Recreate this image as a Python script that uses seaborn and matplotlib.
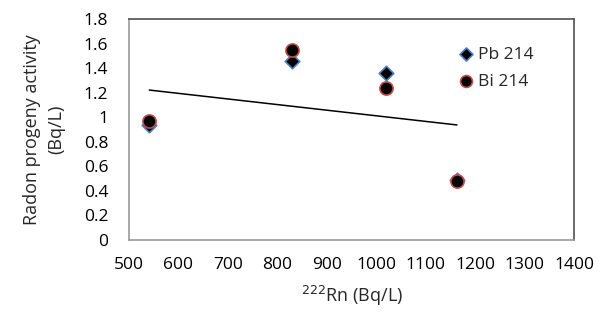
import numpy as np
import pandas as pd
import matplotlib
matplotlib.use("Agg")
import matplotlib.pyplot as plt
import seaborn as sns

# Data
rn222 = [541, 829, 1020, 1163]
pb214 = [0.94, 1.46, 1.36, 0.49]
bi214 = [0.97, 1.55, 1.24, 0.48]

x_ticks = [500, 600, 700, 800, 900, 1000, 1100, 1200, 1300, 1400]
y_ticks = [0, 0.2, 0.4, 0.6, 0.8, 1, 1.2, 1.4, 1.6, 1.8]
y_tick_labels = ["0", "0.2", "0.4", "0.6", "0.8", "1", "1.2", "1.4", "1.6", "1.8"]

df = pd.DataFrame({"Rn": rn222, "Pb": pb214, "Bi": bi214})

sns.set_theme(style="white")
plt.rcParams["font.family"] = ["Open Sans", "DejaVu Sans"]

fig, ax = plt.subplots(figsize=(6, 3.27), dpi=100)

# Linear trend of Pb 214
sns.regplot(data=df, x="Rn", y="Pb", ax=ax, scatter=False, ci=None, truncate=True,
            line_kws={"color": "black", "linewidth": 1.1})

sns.scatterplot(data=df, x="Rn", y="Pb", ax=ax, marker="D", s=55, color="black",
                edgecolor="#4f81bd", linewidth=1.2, label="Pb 214", zorder=3)
sns.scatterplot(data=df, x="Rn", y="Bi", ax=ax, marker="o", s=90, color="black",
                edgecolor="#c0504d", linewidth=1.2, label="Bi 214", zorder=4)

ax.set_xlim(500, 1400)
ax.set_ylim(0, 1.8)
ax.set_xticks(x_ticks)
ax.set_yticks(y_ticks)
ax.set_yticklabels(y_tick_labels)
ax.tick_params(axis="both", length=0, labelsize=12.5, colors="black")
ax.tick_params(axis="y", pad=15)
ax.tick_params(axis="x", pad=12)

ax.set_xlabel("$^{222}$Rn (Bq/L)", fontsize=13, labelpad=8)
ax.set_ylabel("Radon progeny activity\n(Bq/L)", fontsize=13, labelpad=13,
              linespacing=1.45)

for side in ["left", "bottom"]:
    ax.spines[side].set_color("#9a9a9a")
    ax.spines[side].set_linewidth(1.2)
for side in ["top", "right"]:
    ax.spines[side].set_color("#505050")
    ax.spines[side].set_linewidth(1.2)

ax.legend(loc="upper left", bbox_to_anchor=(0.717, 0.915), frameon=False,
          fontsize=12.5, handlelength=1, handletextpad=0.2, labelspacing=0.65,
          borderpad=0, markerscale=0.9)

fig.subplots_adjust(left=0.215, right=0.957, top=0.942, bottom=0.266)
plt.savefig("out.png", dpi=100)
plt.close()
